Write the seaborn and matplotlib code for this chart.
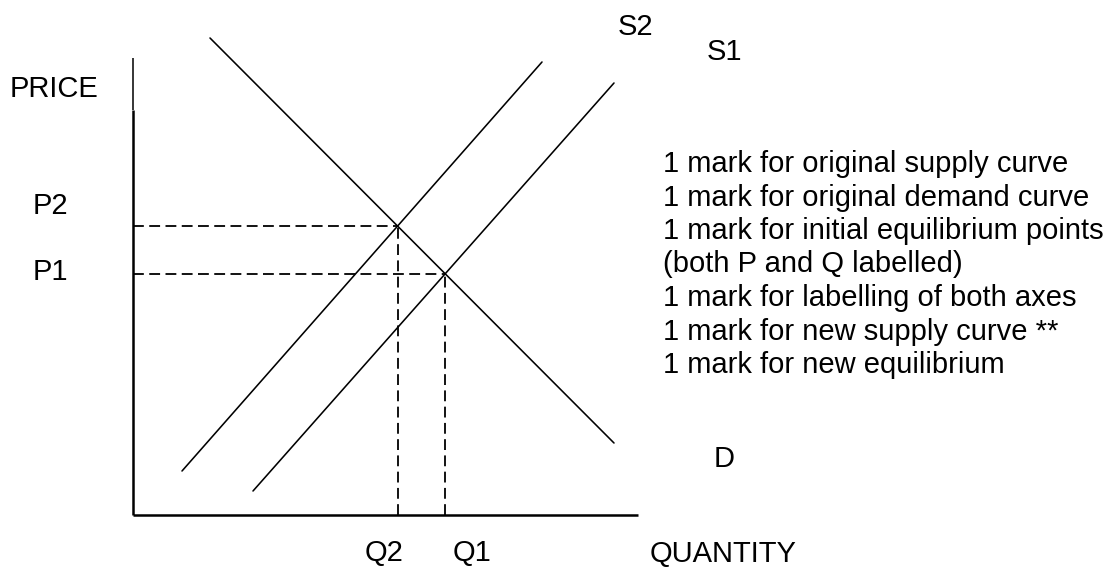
import matplotlib
matplotlib.use("Agg")
import matplotlib.pyplot as plt
import seaborn as sns
import pandas as pd

sns.set_theme(style="white")
plt.rcParams["font.family"] = ["Liberation Sans", "DejaVu Sans"]

# Curve end points (quantity, price); the axes meet at (0, 0)
demand_q = [7.7, 48.1]
demand_p = [47.7, 7.2]
s1_q = [12.0, 48.1]
s1_p = [2.4, 43.2]
s2_q = [4.9, 40.9]
s2_p = [4.4, 45.3]

# Equilibria: original (P1, Q1) and after the supply shift (P2, Q2)
eq_names = ["1", "2"]
eq_q = [31.2, 26.5]
eq_p = [24.1, 28.9]

# Axis extents
q_axis_max = 50.5
p_axis_max = 45.7

notes = [
    "1 mark for original supply curve",
    "1 mark for original demand curve",
    "1 mark for initial equilibrium points",
    "(both P and Q labelled)",
    "1 mark for labelling of both axes",
    "1 mark for new supply curve **",
    "1 mark for new equilibrium",
]

curves = pd.DataFrame({
    "q": demand_q + s1_q + s2_q,
    "p": demand_p + s1_p + s2_p,
    "curve": ["D"] * 2 + ["S1"] * 2 + ["S2"] * 2,
})

fig = plt.figure(figsize=(11.09, 5.68), dpi=100)
ax = fig.add_axes([0, 0, 1, 1])
ax.set_xlim(-13.3, 97.6)
ax.set_ylim(-5.3, 51.5)
ax.axis("off")

# Axes of the diagram (the top stretch of the price axis is drawn finer)
ax.plot([0, 0], [0, 40.5], color="black", lw=1.8, solid_capstyle="butt")
ax.plot([0, 0], [40.5, p_axis_max], color="black", lw=1.1, solid_capstyle="butt")
ax.plot([0, q_axis_max], [0, 0], color="black", lw=1.8, solid_capstyle="butt")

sns.lineplot(data=curves, x="q", y="p", units="curve", estimator=None,
             sort=False, color="black", lw=1.15, ax=ax, legend=False)

# Dashed guides from each equilibrium to both axes
for q, p in zip(eq_q, eq_p):
    ax.plot([0, q], [p, p], color="black", lw=1.3, dashes=(6, 3))
    ax.plot([q, q], [0, p], color="black", lw=1.3, dashes=(6, 3))

fs = 21
txt = dict(color="black", fontsize=fs, ha="left", va="center")
ax.text(-12.3, 42.6, "PRICE", **txt)
ax.text(-10.0, 30.9, "P2", **txt)
ax.text(-10.0, 24.3, "P1", **txt)
ax.text(23.2, -3.8, "Q2", **txt)
ax.text(32.0, -3.8, "Q1", **txt)
ax.text(51.7, -3.9, "QUANTITY", **txt)
ax.text(48.5, 48.8, "S2", **txt)
ax.text(57.4, 46.3, "S1", **txt)
ax.text(58.1, 5.6, "D", **txt)

for i, line in enumerate(notes):
    ax.text(53.0, 35.1 - 3.35 * i, line, **txt)

fig.savefig("out.png", dpi=100)
